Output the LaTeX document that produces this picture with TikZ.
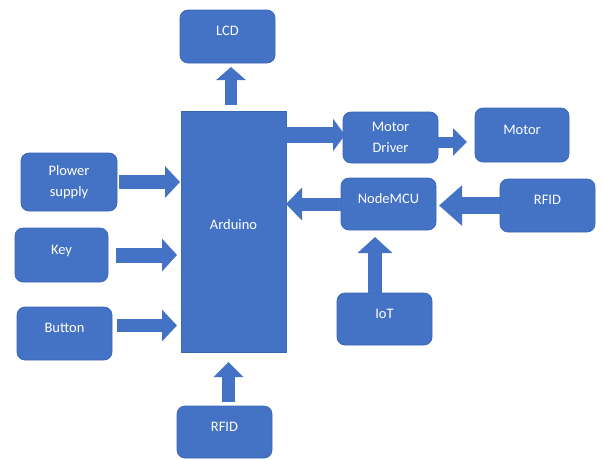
\documentclass[tikz,border=0pt]{standalone}
\usepackage{fontspec}
\setmainfont{Carlito}
\usetikzlibrary{arrows.meta,calc}
\definecolor{boxblue}{HTML}{4472C4}
\definecolor{edgeblue}{HTML}{3A66B5}
\tikzset{
  blk/.style={fill=boxblue, draw=edgeblue, line width=0.7pt, rounded corners=8pt,
    inner sep=0pt, outer sep=0pt, text=white,
    font=\fontsize{14.5}{21}\selectfont, align=center},
  onebox/.style={blk, text height=9.5pt, text depth=11pt},
  barrow/.style n args={3}{draw=boxblue, line width=#1,
    -{Triangle[length=#2,width=#3]}},
}
\begin{document}
\begin{tikzpicture}[x=1pt,y=-1pt]
\useasboundingbox (0,0) rectangle (603,459);
\node[onebox, minimum width=95pt, minimum height=53pt] (lcd) at (227.5,36.5) {LCD};
\node[blk, rounded corners=0pt, text height=9.5pt, text depth=13pt, minimum width=105pt, minimum height=241pt] (arduino) at (233.5,231.5) {Arduino};
\node[blk, minimum width=96pt, minimum height=58pt] (power) at (69,182) {Plower\\supply};
\node[onebox, minimum width=93pt, minimum height=54pt] (key) at (61.5,255) {Key};
\node[onebox, minimum width=95pt, minimum height=53pt] (button) at (64.5,333.5) {Button};
\node[onebox, minimum width=95pt, minimum height=52pt] (rfidb) at (224.5,432) {RFID};
\node[blk, minimum width=95pt, minimum height=51pt] (driver) at (390.5,137.5) {Motor\\Driver};
\node[onebox, minimum width=94pt, minimum height=54pt] (motor) at (522,135) {Motor};
\node[onebox, minimum width=95pt, minimum height=52pt] (nodemcu) at (388.5,204) {NodeMCU};
\node[onebox, minimum width=95pt, minimum height=53pt] (rfidr) at (547.5,205.5) {RFID};
\node[onebox, minimum width=95pt, minimum height=52pt] (iot) at (384.5,319) {IoT};
% arrows
\coordinate (a1) at ($(arduino.north)+(-2.5,-6)$);
\draw[barrow={12pt}{13pt}{29pt}, shorten >=4pt] (a1) -- (a1 |- lcd.south);
\draw[barrow={14pt}{15pt}{31pt}, shorten <=2pt, shorten >=1pt] (power.east) -- (power.east -| arduino.west);
\draw[barrow={15pt}{15pt}{32pt}, shorten <=8pt, shorten >=4pt] (key.east) -- (key.east -| arduino.west);
\coordinate (b1) at ($(button.east)+(5,-8)$);
\draw[barrow={13pt}{15pt}{31pt}, shorten >=4pt] (b1) -- (b1 -| arduino.west);
\coordinate (r1) at ($(rfidb.north)+(4,-4)$);
\draw[barrow={13pt}{15pt}{29pt}, shorten >=10pt] (r1) -- (r1 |- arduino.south);
\coordinate (d1) at ($(arduino.east |- driver.west)+(0,-2.5)$);
\draw[barrow={16pt}{12pt}{32pt}] (d1) -- ($(d1 -| driver.west)+(2,0)$);
\coordinate (m1) at ($(driver.east)+(0,4.5)$);
\draw[barrow={11pt}{14pt}{27pt}, shorten >=8pt] (m1) -- (m1 -| motor.west);
\draw[barrow={13pt}{16pt}{32pt}] (nodemcu.west) -- (nodemcu.west -| arduino.east);
\draw[barrow={17pt}{23pt}{39pt}, shorten >=3pt] (rfidr.west) -- (rfidr.west -| nodemcu.east);
\coordinate (i1) at ($(iot.north)+(-9.5,0)$);
\draw[barrow={14pt}{16pt}{34pt}, shorten >=7pt] (i1) -- (i1 |- nodemcu.south);
\end{tikzpicture}
\end{document}
